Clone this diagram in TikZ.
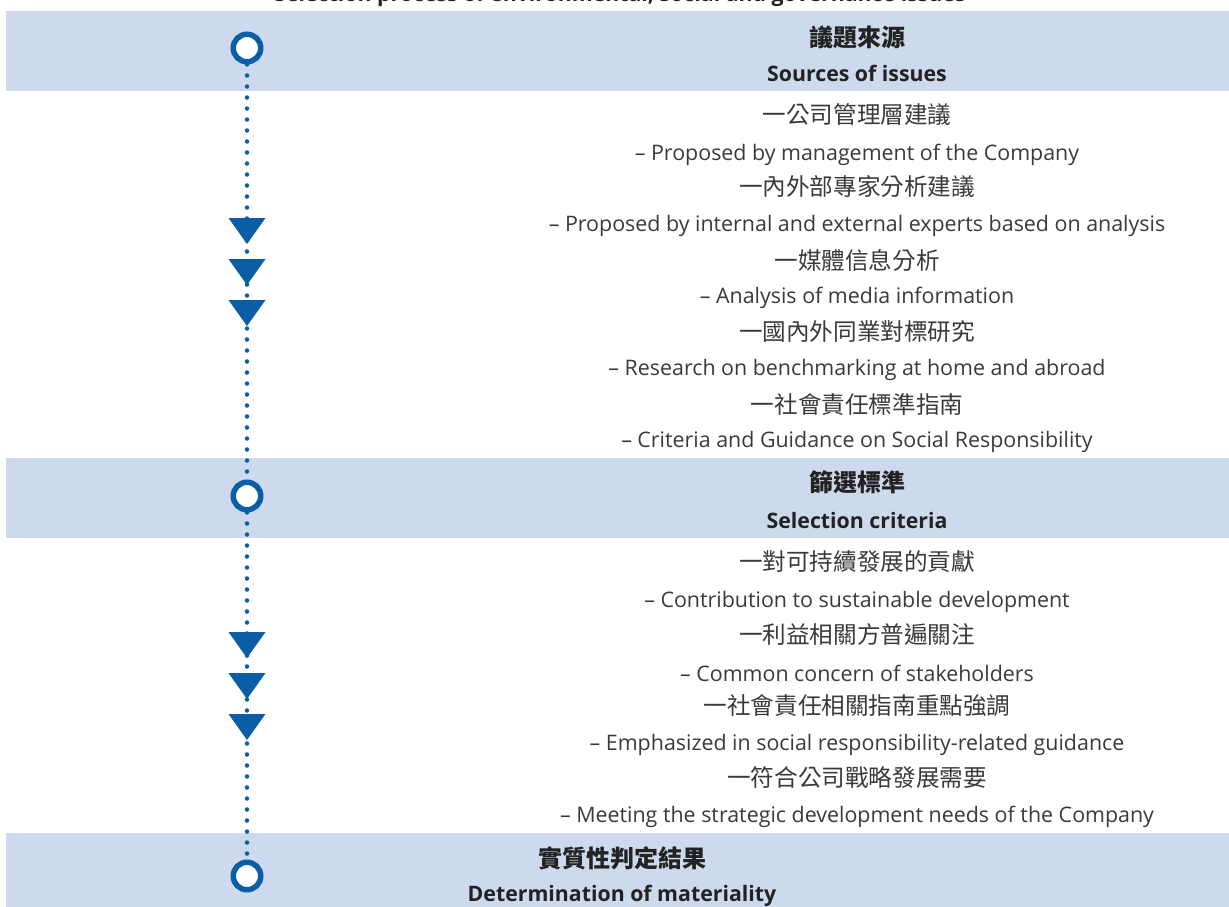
\documentclass[tikz,border=0pt]{standalone}
\usepackage{fontspec}
\setmainfont{Open Sans}
\newfontfamily\cjk{Noto Sans CJK TC}
\usetikzlibrary{calc}
\definecolor{band}{HTML}{CDD9EC}
\definecolor{ksblue}{HTML}{0A5EA6}
\definecolor{txt}{HTML}{3A3A3A}
\definecolor{head}{HTML}{222222}
\begin{document}
\begin{tikzpicture}[x=1pt,y=-1pt,
  en/.style={font=\fontsize{21.4}{24}\selectfont, text=txt, inner sep=0pt, yshift=-2pt},
  zh/.style={font=\cjk\fontsize{23.6}{26}\selectfont, text=txt, inner sep=0pt},
  enh/.style={font=\bfseries\fontsize{21.3}{24}\selectfont, text=head, inner sep=0pt, yshift=-1pt},
  zhh/.style={font=\cjk\bfseries\fontsize{24}{26}\selectfont, text=head, inner sep=0pt},
  ring/.style={circle, draw=ksblue, line width=5.5pt, fill=white, minimum size=27.5pt, inner sep=0pt},
  dots/.style={ksblue, line width=4.5pt, line cap=round, dash pattern=on 0pt off 11pt},
  tri/.pic={\fill[ksblue] (-18.5,-13) -- (18.5,-13) -- (0,13) -- cycle;}
]
\useasboundingbox (0,0) rectangle (1229,907);
\fill[white] (0,0) rectangle (1229,907);
% bands
\fill[band] (6,11) rectangle (1229,91);
\fill[band] (6,458) rectangle (1229,538);
\fill[band] (6,833) rectangle (1229,907);
% title (cut off at the top edge, as in the reference)
\node[enh, yshift=1pt, anchor=base] (title) at (620,2) {Selection process of environmental, social and governance issues};
% band 1
\node[zhh] (h1z) at (857,37) {議題來源};
\node[enh] (h1e) at (857,72) {Sources of issues};
\node[zh] (a1) at (857,115) {一公司管理層建議};
\node[en] (a2) at (857,153) {– Proposed by management of the Company};
\node[zh] (a3) at (857,187) {一內外部專家分析建議};
\node[en] (a4) at (857,224) {– Proposed by internal and external experts based on analysis};
\node[zh] (a5) at (857,260) {一媒體信息分析};
\node[en] (a6) at (857,296) {– Analysis of media information};
\node[zh] (a7) at (857,332) {一國內外同業對標研究};
\node[en] (a8) at (857,368) {– Research on benchmarking at home and abroad};
\node[zh] (a9) at (857,404) {一社會責任標準指南};
\node[en] (a10) at (857,440) {– Criteria and Guidance on Social Responsibility};
% band 2
\node[zhh] (h2z) at (857,482) {篩選標準};
\node[enh] (h2e) at (857,520) {Selection criteria};
\node[zh] (b1) at (857,562) {一對可持續發展的貢獻};
\node[en] (b2) at (857,600) {– Contribution to sustainable development};
\node[zh] (b3) at (857,634) {一利益相關方普遍關注};
\node[en] (b4) at (857,671) {– Common concern of stakeholders};
\node[zh] (b5) at (857,706) {一社會責任相關指南重點強調};
\node[en] (b6) at (857,743) {– Emphasized in social responsibility-related guidance};
\node[zh] (b7) at (857,778) {一符合公司戰略發展需要};
\node[en] (b8) at (857,815) {– Meeting the strategic development needs of the Company};
% band 3
\node[zhh] (h3z) at (622,858) {實質性判定結果};
\node[enh] (h3e) at (622,895) {Determination of materiality};
% timeline
\node[ring] (c1) at (247,48) {};
\node[ring] (c2) at (247,496) {};
\node[ring] (c3) at (247,876) {};
\draw[dots] (c1) -- (c2);
\draw[dots] (c2) -- (c3);
\coordinate (t1) at (247,231);
\coordinate (t2) at (247,272);
\coordinate (t3) at (247,313);
\coordinate (t4) at (247,645);
\coordinate (t5) at (247,686);
\coordinate (t6) at (247,727);
\foreach \t in {t1,t2,t3,t4,t5,t6} \pic at (\t) {tri};
\end{tikzpicture}
\end{document}
